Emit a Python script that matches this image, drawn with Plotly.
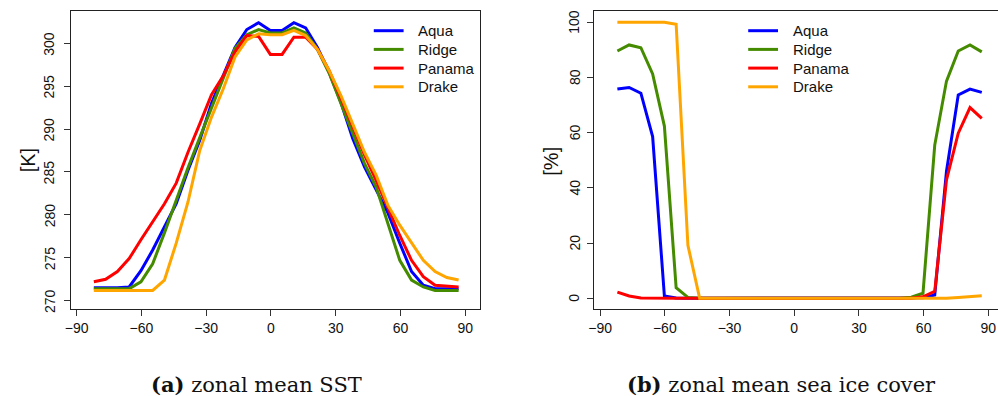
import plotly.graph_objects as go

# latitude of each zonal band (degrees)
lat = [-82.0, -76.55, -71.1, -65.65, -60.2, -54.75, -49.3, -43.85, -38.4, -32.95,
       -27.5, -22.05, -16.6, -11.15, -5.7, -0.25, 5.2, 10.65, 16.1, 21.55,
       27.0, 32.45, 37.9, 43.35, 48.8, 54.25, 59.7, 65.15, 70.6, 76.05, 81.5, 86.95]

series_names = ["Aqua", "Ridge", "Panama", "Drake"]
series_colors = ["#0000FF", "#458B00", "#FF0000", "#FFA500"]

# zonal mean SST [K]
sst_aqua = [271.5, 271.5, 271.5, 271.6, 273.5, 275.9, 278.6, 281.3, 285.2, 288.7,
            293.0, 296.2, 299.5, 301.6, 302.4, 301.5, 301.5, 302.4, 301.8, 299.5,
            296.6, 293.1, 288.9, 285.6, 282.9, 280.2, 276.7, 273.4, 271.8, 271.4, 271.4, 271.4]
sst_ridge = [271.4, 271.4, 271.4, 271.4, 272.2, 274.3, 277.9, 281.8, 285.5, 289.0,
             292.4, 295.8, 299.4, 301.0, 301.6, 301.2, 301.2, 301.8, 301.2, 299.3,
             296.5, 293.0, 289.5, 286.0, 283.2, 279.0, 274.7, 272.4, 271.6, 271.2, 271.2, 271.2]
sst_panama = [272.2, 272.5, 273.4, 274.9, 277.1, 279.2, 281.3, 283.7, 287.3, 290.6,
              294.0, 296.2, 299.0, 300.9, 300.8, 298.7, 298.7, 300.7, 300.7, 299.3,
              296.8, 293.6, 290.2, 287.0, 284.0, 280.7, 277.6, 274.7, 272.8, 271.8, 271.7, 271.6]
sst_drake = [271.2, 271.2, 271.2, 271.2, 271.2, 271.2, 272.4, 276.7, 281.5, 287.5,
             291.4, 294.7, 298.4, 300.4, 301.1, 301.0, 301.0, 301.5, 300.9, 299.3,
             296.8, 293.9, 290.6, 287.3, 284.6, 281.1, 278.8, 276.7, 274.7, 273.4, 272.7, 272.4]

# zonal mean sea ice cover [%]
ice_aqua = [75.8, 76.4, 74.3, 58.6, 0.8, 0.1, 0, 0, 0, 0,
            0, 0, 0, 0, 0, 0, 0, 0, 0, 0,
            0, 0, 0, 0, 0, 0, 0.2, 1.2, 46.0, 73.7, 75.8, 74.6]
ice_ridge = [89.6, 91.8, 90.8, 81.3, 62.4, 3.8, 0.3, 0, 0, 0,
             0, 0, 0, 0, 0, 0, 0, 0, 0, 0,
             0, 0, 0, 0, 0, 0.4, 1.8, 55.5, 78.7, 89.6, 91.8, 89.3]
ice_panama = [2.2, 0.8, 0.1, 0, 0, 0, 0, 0, 0, 0,
              0, 0, 0, 0, 0, 0, 0, 0, 0, 0,
              0, 0, 0, 0, 0, 0, 0.5, 2.5, 42.9, 59.8, 69.1, 65.2]
ice_drake = [100, 100, 100, 100, 100, 99.3, 19.2, 0, 0, 0,
             0, 0, 0, 0, 0, 0, 0, 0, 0, 0,
             0, 0, 0, 0, 0, 0, 0, 0, 0, 0.3, 0.5, 0.9]

x_ticks = [-90, -60, -30, 0, 30, 60, 90]
sst_ticks = [270, 275, 280, 285, 290, 295, 300]
ice_ticks = [0, 20, 40, 60, 80, 100]

W, H = 998, 396

fig = go.Figure()
sst_all = [sst_aqua, sst_ridge, sst_panama, sst_drake]
ice_all = [ice_aqua, ice_ridge, ice_panama, ice_drake]
for name, col, ys in zip(series_names, series_colors, sst_all):
    fig.add_trace(go.Scatter(x=lat, y=ys, mode="lines", name=name,
                             line=dict(color=col, width=3), xaxis="x", yaxis="y",
                             showlegend=False))
for name, col, ys in zip(series_names, series_colors, ice_all):
    fig.add_trace(go.Scatter(x=lat, y=ys, mode="lines", name=name,
                             line=dict(color=col, width=3), xaxis="x2", yaxis="y2",
                             showlegend=False))

tickfont = dict(family="Liberation Sans, Arial, sans-serif", size=14, color="#111")
ydom = [1 - 309 / H, 1 - 11 / H]
axcommon = dict(showgrid=False, zeroline=False, showline=True, linecolor="#222",
                linewidth=1, ticks="outside", ticklen=6, tickcolor="#333",
                tickfont=tickfont)

fig.update_layout(
    width=W, height=H,
    margin=dict(l=0, r=0, t=0, b=0),
    paper_bgcolor="white", plot_bgcolor="white",
    xaxis=dict(domain=[65 / W, 477 / W], range=[-92.77, 96.92], tickvals=x_ticks,
               mirror=True, anchor="y", **axcommon),
    yaxis=dict(domain=ydom, range=[269.03, 303.76], tickvals=sst_ticks,
               showticklabels=False, mirror=True, anchor="x", **axcommon),
    xaxis2=dict(domain=[591.7 / W, 1.0], range=[-92.77, 94.48], tickvals=x_ticks,
                mirror=True, anchor="y2", **axcommon),
    yaxis2=dict(domain=ydom, range=[-3.9, 104.1], tickvals=ice_ticks,
                showticklabels=False, mirror=False, anchor="x2", **axcommon),
    showlegend=False,
)

# vertical (rotated) y tick labels, placed at the tick values on each y axis
for v in sst_ticks:
    fig.add_annotation(text=str(v), x=43.7 / W, xref="paper", y=v, yref="y",
                       xanchor="center", yanchor="middle", textangle=-90,
                       showarrow=False, font=tickfont)
for v in ice_ticks:
    fig.add_annotation(text=str(v), x=572 / W, xref="paper", y=v, yref="y2",
                       xanchor="center", yanchor="middle", textangle=-90,
                       showarrow=False, font=tickfont)

# legends (one per panel), built from the series names/colours
legfont = dict(family="Liberation Sans, Arial, sans-serif", size=15, color="#111")
for lx0 in (370, 746.7):
    for i, (name, col) in enumerate(zip(series_names, series_colors)):
        yy = 30.7 + 18.7 * i
        fig.add_shape(type="line", xref="paper", yref="paper",
                      x0=lx0 / W, x1=(lx0 + 30) / W, y0=1 - yy / H, y1=1 - yy / H,
                      line=dict(color=col, width=3))
        fig.add_annotation(text=name, x=(lx0 + 42.7) / W, y=1 - yy / H,
                           xref="paper", yref="paper", xanchor="left", yanchor="middle",
                           showarrow=False, font=legfont)

labfont = dict(family="Liberation Sans, Arial, sans-serif", size=20, color="#111")
fig.add_annotation(text="[K]", x=22 / W, y=1 - 160.5 / H, xref="paper", yref="paper",
                   xanchor="center", yanchor="middle",
                   textangle=-90, showarrow=False, font=labfont)
fig.add_annotation(text="[%]", x=548 / W, y=1 - 161 / H, xref="paper", yref="paper",
                   xanchor="center", yanchor="middle",
                   textangle=-90, showarrow=False, font=labfont)

capfont = dict(family="DejaVu Serif, serif", size=21, color="#111")
fig.add_annotation(text="<b>(a)</b> zonal mean SST", x=252 / W, y=1 - 384 / H,
                   xref="paper", yref="paper", xanchor="center", yanchor="middle",
                   showarrow=False, font=capfont)
fig.add_annotation(text="<b>(b)</b> zonal mean sea ice cover", x=780 / W, y=1 - 384 / H,
                   xref="paper", yref="paper", xanchor="center", yanchor="middle",
                   showarrow=False, font=capfont)

fig.write_html("out.html")
